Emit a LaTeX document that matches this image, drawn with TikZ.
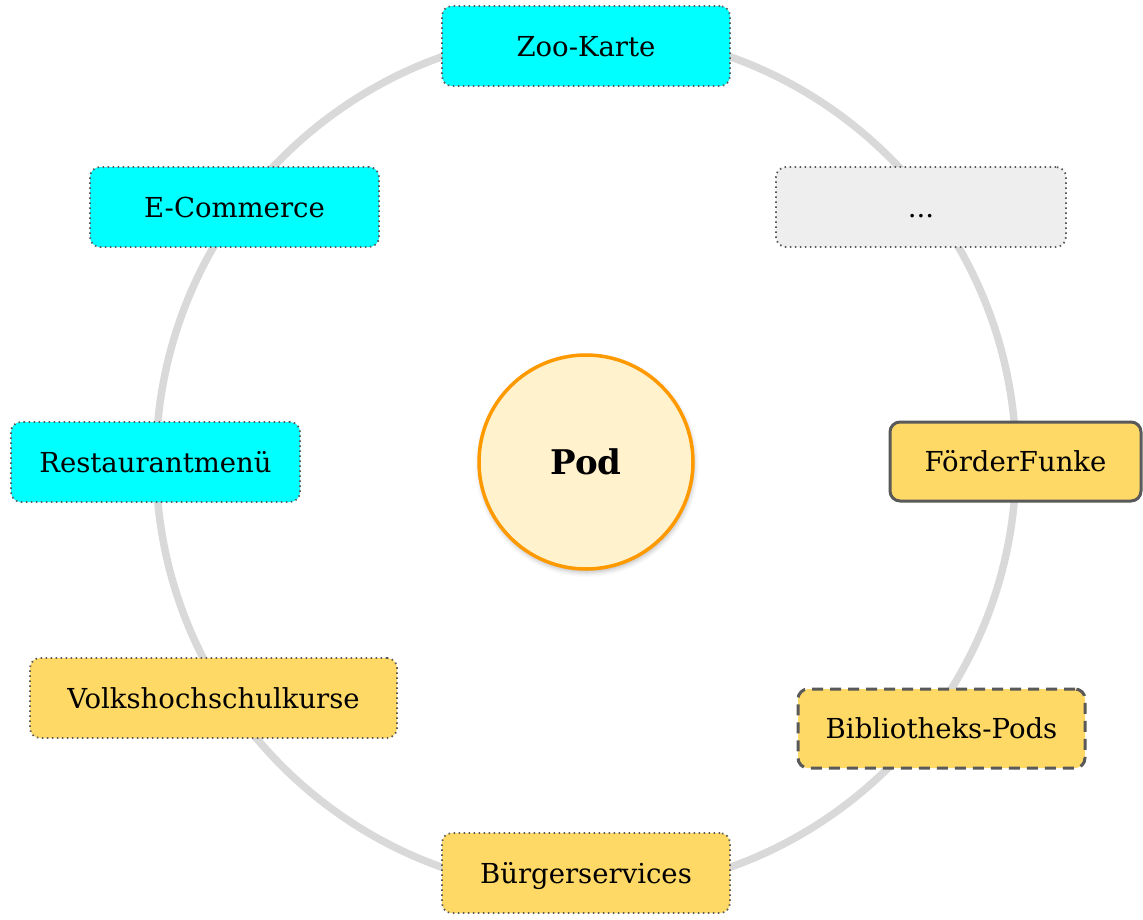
\documentclass[tikz,border=0pt]{standalone}
\usepackage{fontspec}
\setmainfont{DejaVu Serif}
\usetikzlibrary{shadows.blur}
\definecolor{ringgray}{HTML}{D9D9D9}
\definecolor{edgegray}{HTML}{595959}
\definecolor{tileyellow}{HTML}{FFD966}
\definecolor{tilecyan}{HTML}{00FFFF}
\definecolor{tilegray}{HTML}{EEEEEE}
\definecolor{podfill}{HTML}{FFF2CC}
\definecolor{podedge}{HTML}{FF9900}
\tikzset{
  tile/.style={rectangle, rounded corners=10pt, minimum height=80pt, inner sep=0pt,
    text height=20pt, text depth=0pt,
    font=\fontsize{27.5}{32}\selectfont, text=black},
  dotedge/.style={draw=edgegray, line width=1.8pt, dash pattern=on 1.5pt off 3.5pt},
  cyantile/.style={tile, dotedge, fill=tilecyan},
  yellowtile/.style={tile, dotedge, fill=tileyellow},
  greytile/.style={tile, dotedge, fill=tilegray},
  solidtile/.style={tile, draw=edgegray, line width=3pt, fill=tileyellow},
  dashtile/.style={tile, draw=edgegray, line width=3pt, dash pattern=on 11pt off 7pt, fill=tileyellow},
  ring/.style={draw=ringgray, line width=7.5pt},
  hub/.style={circle, minimum size=214pt, inner sep=0pt, fill=podfill, draw=podedge,
    line width=3.5pt, text height=25pt, text depth=0pt,
    font=\fontsize{34}{40}\selectfont\bfseries,
    blur shadow={shadow xshift=1pt, shadow yshift=-3pt, shadow blur radius=5pt, shadow opacity=30}}
}
\begin{document}
\begin{tikzpicture}[x=1pt, y=-1pt]
  \useasboundingbox (0,0) rectangle (1143,919);
  \coordinate (centre) at (586,462);
  % orbit behind all tiles
  \draw[ring] (centre) circle[radius=430pt];
  % central hub
  \node[hub] (pod) at (centre) {Pod};
  % tiles around the orbit
  \node[cyantile, minimum width=288pt] (zoo) at (586,46) {Zoo-Karte};
  \node[cyantile, minimum width=289pt] (ecom) at (234.5,207) {E-Commerce};
  \node[greytile, minimum width=290pt] (more) at (921,207) {...};
  \node[cyantile, minimum width=289pt] (menu) at (155.5,462) {Restaurantmenü};
  \node[solidtile, minimum width=251pt, minimum height=79pt] (funke) at (1015.5,461.5) {FörderFunke};
  \node[yellowtile, minimum width=367pt] (vhs) at (213.5,698) {Volkshochschulkurse};
  \node[dashtile, minimum width=287pt, minimum height=79pt] (lib) at (941.5,728.5) {Bibliotheks-Pods};
  \node[yellowtile, minimum width=288pt] (buerger) at (586,873) {Bürgerservices};
\end{tikzpicture}
\end{document}
